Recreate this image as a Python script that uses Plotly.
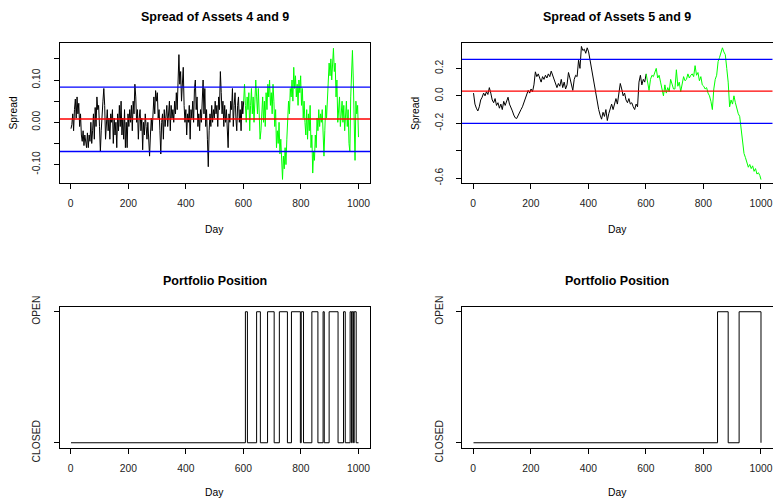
import plotly.graph_objects as go

W, H = 773, 504

# ---------------- data ----------------
spread49_days = [1 + 3 * k for k in range(334)]
spread49 = [
    -0.015, -0.005, 0.02, -0.02, 0.03, 0.055, 0.01, 0.06, 0.02, 0.045,
    -0.01, 0.02, -0.03, -0.045, -0.02, -0.055, -0.03, -0.05, -0.06, -0.025,
    -0.06, -0.03, -0.045, 0.0, -0.05, -0.02, 0.02, -0.04, 0.035, -0.01,
    0.06, 0.03, 0.04, -0.01, -0.07, -0.02, 0.03, 0.05, 0.08, 0.04,
    -0.04, 0.0, 0.03, -0.02, 0.01, -0.04, 0.02, 0.0, 0.03, -0.05,
    0.01, -0.03, 0.0, -0.06, 0.02, -0.02, 0.04, -0.01, 0.05, -0.03,
    0.01, -0.04, 0.03, -0.06, 0.0, -0.06, 0.02, -0.01, 0.03, 0.0,
    0.04, -0.02, 0.05, 0.02, 0.09, 0.06, 0.0, 0.03, -0.04, 0.01,
    0.03, -0.02, 0.01, -0.065, 0.0, -0.03, 0.02, -0.01, -0.04, 0.0,
    -0.05, -0.08, -0.03, 0.01, -0.02, 0.03, 0.06, 0.02, 0.075, 0.05,
    0.07, 0.01, 0.03, -0.02, -0.075, 0.0, 0.02, -0.04, 0.03, -0.01,
    0.02, 0.04, -0.01, 0.03, 0.05, -0.02, 0.04, 0.01, 0.03, 0.0,
    0.05, 0.02, 0.07, 0.03, 0.11, 0.16, 0.09, 0.12, 0.05, 0.08,
    0.13, 0.04, 0.0, 0.03, -0.03, 0.02, 0.0, 0.04, -0.04, 0.03,
    0.01, 0.05, 0.0, 0.08, 0.1, 0.03, 0.06, -0.01, 0.02, -0.02,
    0.03, 0.0, 0.06, 0.1, 0.02, 0.08, -0.01, 0.03, -0.04, -0.105,
    -0.02, 0.02, -0.01, 0.04, 0.0, 0.03, 0.01, 0.05, 0.02, 0.04,
    -0.01, 0.06, 0.03, 0.12, 0.07, 0.02, 0.05, -0.01, 0.04, 0.0,
    0.03, -0.02, -0.06, 0.02, 0.0, 0.05, 0.03, 0.08, -0.01, 0.04,
    0.07, 0.01, -0.02, 0.04, 0.06, 0.0, 0.03, -0.02, 0.05, 0.02,
    0.05, 0.09, 0.04, 0.0, 0.06, 0.03, 0.07, -0.02, 0.04, 0.08,
    0.02, 0.06, 0.0, 0.05, 0.1, 0.06, 0.02, 0.08, 0.0, -0.04,
    -0.02, 0.03, 0.06, 0.0, 0.05, -0.01, 0.07, 0.03, 0.09, 0.06,
    0.1, 0.04, 0.07, 0.02, 0.09, 0.05, -0.01, 0.03, -0.06, -0.02,
    -0.05, 0.0, -0.075, -0.04, -0.09, -0.135, -0.08, -0.11, -0.06, -0.1,
    -0.04, 0.01, 0.05, 0.02, 0.08, 0.06, 0.1, 0.05, 0.13, 0.08,
    0.11, 0.06, 0.09, 0.04, 0.1, 0.07, 0.11, 0.04, 0.08, 0.01,
    0.05, 0.0, -0.03, 0.03, -0.04, 0.02, -0.02, 0.04, -0.06, -0.03,
    -0.12, -0.07, -0.09, -0.03, -0.06, 0.01, -0.02, 0.03, -0.01, 0.02,
    0.0, 0.03, -0.04, -0.08, -0.02, 0.04, 0.01, 0.06, 0.1, 0.14,
    0.11, 0.15, 0.1, 0.13, 0.175, 0.12, 0.14, 0.06, 0.1, 0.0,
    0.04, 0.06, -0.01, 0.03, 0.05, 0.0, 0.04, -0.02, 0.02, 0.05,
    -0.01, 0.03, -0.05, -0.07, 0.06, 0.15, 0.17, 0.1, -0.05, -0.09,
    0.05, 0.02, 0.04, -0.035,
]

spread59_days = [1] + [5 * i + 1 for i in range(1, 200)] + [1000]
spread59 = [
    0.02, -0.06, -0.09, -0.11, -0.08, -0.03, -0.01, 0.02, 0.0, 0.03,
    0.01, 0.06, 0.02, -0.03, -0.05, -0.02, -0.07, -0.05, -0.09, -0.06,
    -0.1, -0.04, -0.07, -0.03, -0.01, -0.06, -0.08, -0.11, -0.14, -0.16,
    -0.165, -0.14, -0.12, -0.1, -0.08, -0.05, -0.02, 0.01, 0.04, 0.02,
    0.05, 0.03, 0.08, 0.175, 0.14, 0.16, 0.12, 0.1, 0.14, 0.12,
    0.15, 0.13, 0.16, 0.14, 0.18, 0.15, 0.13, 0.1, 0.06, 0.09,
    0.07, 0.12, 0.06, 0.1, 0.05, 0.08, 0.17, 0.13, 0.09, 0.04,
    0.12, 0.15, 0.14, 0.26, 0.2, 0.36, 0.33, 0.34, 0.31, 0.35,
    0.32, 0.26, 0.18, 0.13, 0.05, 0.0, -0.06, -0.1, -0.14, -0.17,
    -0.12, -0.15, -0.1, -0.18, -0.13, -0.1, -0.06, -0.1, -0.05, -0.02,
    -0.06, 0.0, 0.09, 0.05, 0.0, 0.02, -0.03, -0.05, -0.02, -0.06,
    -0.05, -0.08, -0.1, -0.06, -0.08, 0.1, 0.15, 0.08, 0.12, 0.1,
    0.16, 0.1, 0.04, 0.12, 0.15, 0.14, 0.17, 0.2, 0.13, 0.15,
    0.1, 0.06, 0.0, 0.08, 0.02, 0.06, 0.03, 0.12, 0.08, 0.05,
    0.05, 0.19, 0.07, 0.1, 0.03, 0.1, 0.14, 0.11, 0.12, 0.16,
    0.13, 0.15, 0.16, 0.14, 0.22, 0.15, 0.17, 0.11, 0.14, 0.08,
    0.07, 0.05, 0.06, 0.02, 0.0, -0.04, -0.1, 0.05, 0.12, 0.15,
    0.25, 0.28, 0.32, 0.35, 0.32, 0.3, 0.2, 0.1, -0.08, -0.03,
    -0.06, 0.0, -0.05, -0.1, -0.13, -0.15, -0.25, -0.35, -0.42, -0.45,
    -0.48, -0.52, -0.5, -0.53, -0.51, -0.55, -0.53, -0.57, -0.56, -0.58,
    -0.61,
]

train_end_day = 601   # black up to here, green after

# horizontal reference lines: (mean, upper, lower)
lines49 = {"mean": 0.0078, "upper": 0.083, "lower": -0.069}
lines59 = {"mean": 0.034, "upper": 0.265, "lower": -0.200}

pos49_days = [1, 607, 614, 646, 659, 684, 707, 725, 753, 767, 798, 801, 809, 838,
              859, 877, 881, 898, 929, 948, 954, 971, 976, 978, 983, 985, 992, 1000]
pos49_state = [0, 1, 0, 1, 0, 1, 0, 1, 0, 1, 0, 1, 0, 1,
               0, 1, 0, 1, 0, 1, 0, 1, 0, 1, 0, 1, 0, 0]
pos59_days = [1, 849, 886, 924, 1000]
pos59_state = [0, 1, 0, 1, 0]

titles = ["Spread of Assets 4 and 9", "Spread of Assets 5 and 9",
          "Portfolio Position", "Portfolio Position"]
x_ticks = [0, 200, 400, 600, 800, 1000]
y1_ticks = [-0.10, -0.05, 0.0, 0.05, 0.10, 0.15]
y1_text = ["-0.10", "", "0.00", "", "0.10", ""]
y2_ticks = [-0.6, -0.4, -0.2, 0.0, 0.2]
y2_text = ["-0.6", "", "-0.2", "0.0", "0.2"]
pos_ticks = [0, 1]
pos_text = ["CLOSED", "OPEN"]

# ---------------- figure ----------------
FONT = "Liberation Sans, Arial, Helvetica, sans-serif"
TICKSZ = 10.3
fig = go.Figure()


def split(days, vals):
    bx, by, gx, gy = [], [], [], []
    for d, v in zip(days, vals):
        if d <= train_end_day:
            bx.append(d); by.append(v)
        if d >= train_end_day:
            gx.append(d); gy.append(v)
    return bx, by, gx, gy


for (days, vals, xa, ya, hl) in [(spread49_days, spread49, "x", "y", lines49),
                                 (spread59_days, spread59, "x2", "y2", lines59)]:
    bx, by, gx, gy = split(days, vals)
    fig.add_trace(go.Scatter(x=bx, y=by, mode="lines", line=dict(color="black", width=1),
                             xaxis=xa, yaxis=ya, showlegend=False))
    fig.add_trace(go.Scatter(x=gx, y=gy, mode="lines", line=dict(color="#00ff00", width=1),
                             xaxis=xa, yaxis=ya, showlegend=False))
    for key, col in [("upper", "#0000ff"), ("mean", "#ff0000"), ("lower", "#0000ff")]:
        fig.add_trace(go.Scatter(x=[-100, 1100], y=[hl[key], hl[key]], mode="lines",
                                 line=dict(color=col, width=1.3),
                                 xaxis=xa, yaxis=ya, showlegend=False))

fig.add_trace(go.Scatter(x=pos49_days, y=pos49_state, mode="lines", line_shape="hv",
                         line=dict(color="black", width=1), xaxis="x3", yaxis="y3",
                         showlegend=False))
fig.add_trace(go.Scatter(x=pos59_days, y=pos59_state, mode="lines", line_shape="hv",
                         line=dict(color="black", width=1), xaxis="x4", yaxis="y4",
                         showlegend=False))

# panel boxes in pixels: (left, right, top, bottom)
boxes = [(59.5, 370, 43, 183), (462, 772.5, 43, 183),
         (59.5, 370, 306.5, 448), (462, 772.5, 306.5, 448)]

def xdom(b):
    return [b[0] / W, b[1] / W]

def ydom(b):
    return [1 - b[3] / H, 1 - b[2] / H]

common_x = dict(range=[-39, 1040], tickmode="array", tickvals=x_ticks,
                ticks="outside", ticklen=5, tickwidth=1, tickcolor="black",
                showline=True, linecolor="black", linewidth=1, mirror=True,
                showgrid=False, zeroline=False, automargin=False,
                tickfont=dict(family=FONT, size=TICKSZ, color="#222"),
                ticklabelstandoff=6)
common_y = dict(ticks="outside", ticklen=5, tickwidth=1, tickcolor="black",
                showline=True, linecolor="black", linewidth=1, mirror=True,
                showgrid=False, zeroline=False, tickangle=-90, tickmode="array",
                automargin=False,
                tickfont=dict(family=FONT, size=TICKSZ, color="#222"),
                ticklabelstandoff=9)

layout = dict(width=W, height=H, autosize=False, margin=dict(l=0, r=0, t=0, b=0, pad=0),
              paper_bgcolor="white", plot_bgcolor="white", showlegend=False)

yranges = [[-0.1435, 0.1875], [-0.635, 0.385], [-0.04, 1.04], [-0.04, 1.04]]
yticks = [(y1_ticks, y1_text), (y2_ticks, y2_text), (pos_ticks, pos_text), (pos_ticks, pos_text)]
names = ["", "2", "3", "4"]
for i, b in enumerate(boxes):
    n = names[i]
    layout["xaxis" + n] = dict(common_x, domain=xdom(b), anchor="y" + n)
    layout["yaxis" + n] = dict(common_y, domain=ydom(b), anchor="x" + n, range=yranges[i],
                               tickvals=yticks[i][0], ticktext=yticks[i][1])
fig.update_layout(**layout)

ann = []
def add_text(text, px, py, size, bold=False, angle=0):
    ann.append(dict(text=("<b>%s</b>" % text) if bold else text, x=px / W, y=1 - py / H,
                    xref="paper", yref="paper", xanchor="center", yanchor="middle",
                    showarrow=False, textangle=angle,
                    font=dict(family=FONT, size=size, color="black")))

for i, b in enumerate(boxes):
    cx = (b[0] + b[1]) / 2
    ty = 17 if i < 2 else 281
    add_text(titles[i], cx, ty, 12.5, bold=True)
    dy = 230 if i < 2 else 492
    add_text("Day", cx, dy, 10.3)
    if i < 2:
        add_text("Spread", b[0] - 46, (b[2] + b[3]) / 2, 10.3, angle=-90)

fig.update_layout(annotations=ann)
fig.write_html("out.html")
